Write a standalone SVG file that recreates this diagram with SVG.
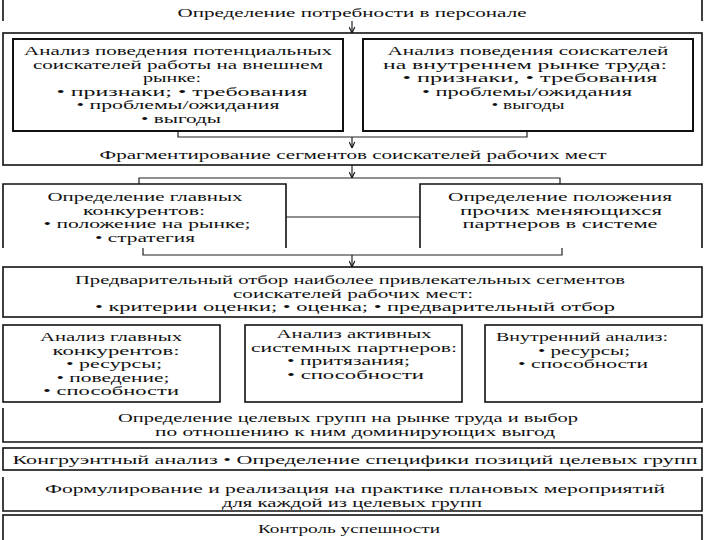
<svg xmlns="http://www.w3.org/2000/svg" width="720" height="540" viewBox="0 0 720 540">
<style>
text{font-family:"Liberation Serif","Times New Roman",serif;font-size:12px;fill:#111;text-anchor:middle}
.box{fill:none;stroke:#111;stroke-width:1.6}
.ibox{fill:none;stroke:#111;stroke-width:2}
.con{fill:none;stroke:#222;stroke-width:1.2}
</style>
<defs>
<marker id="v" viewBox="0 0 10 10" refX="9.5" refY="5" markerWidth="7" markerHeight="7" orient="auto" markerUnits="userSpaceOnUse">
<path d="M1,1 L9.5,5 L1,9" fill="none" stroke="#111" stroke-width="1.6"/>
</marker>
</defs>
<rect width="720" height="540" fill="#fff"/>
<g id="connectors">
<path class="con" d="M352,21 V33" marker-end="url(#v)"/>
<path class="con" d="M178,131 V137 H527 V131"/>
<path class="con" d="M352,137 V148" marker-end="url(#v)"/>
<path class="con" d="M352,165 V178" marker-end="url(#v)"/>
<path class="con" d="M139,184 V178 H560 V184"/>
<path class="con" d="M286,217 H420"/>
<path class="con" d="M143,248 V255 H562 V248"/>
<path class="con" d="M352,255 V267" marker-end="url(#v)"/>
</g>
<g id="n-need">
<path class="box" d="M3,0 V21 M702,0 V21"/>
<text x="352" y="16.5" textLength="349" lengthAdjust="spacingAndGlyphs">Определение потребности в персонале</text>
</g>
<g id="n-frag">
<rect class="box" x="3" y="33" width="699" height="132"/>
<text x="353" y="159" textLength="507" lengthAdjust="spacingAndGlyphs">Фрагментирование сегментов соискателей рабочих мест</text>
</g>
<g id="n-ext">
<rect class="ibox" x="13" y="39" width="330" height="92"/>
<text x="178" y="55" textLength="308" lengthAdjust="spacingAndGlyphs">Анализ поведения потенциальных</text>
<text x="178" y="68.5" textLength="290" lengthAdjust="spacingAndGlyphs">соискателей работы на внешнем</text>
<text x="172" y="82" textLength="58" lengthAdjust="spacingAndGlyphs">рынке:</text>
<text x="182" y="95.5" textLength="251" lengthAdjust="spacingAndGlyphs">• признаки;  • требования</text>
<text x="178" y="109" textLength="203" lengthAdjust="spacingAndGlyphs">• проблемы/ожидания</text>
<text x="181" y="122.5" textLength="80" lengthAdjust="spacingAndGlyphs">• выгоды</text>
</g>
<g id="n-int">
<rect class="ibox" x="363" y="39" width="330" height="92"/>
<text x="528" y="55" textLength="281" lengthAdjust="spacingAndGlyphs">Анализ поведения соискателей</text>
<text x="525" y="68.5" textLength="284" lengthAdjust="spacingAndGlyphs">на внутреннем рынке труда:</text>
<text x="530" y="82" textLength="255" lengthAdjust="spacingAndGlyphs">• признаки,  • требования</text>
<text x="527" y="95.5" textLength="210" lengthAdjust="spacingAndGlyphs">• проблемы/ожидания</text>
<text x="528" y="109" textLength="73" lengthAdjust="spacingAndGlyphs">• выгоды</text>
</g>
<g id="n-comp">
<path class="box" d="M3,248 V184 H286 V248"/>
<text x="145" y="201" textLength="195" lengthAdjust="spacingAndGlyphs">Определение главных</text>
<text x="144" y="214.5" textLength="122" lengthAdjust="spacingAndGlyphs">конкурентов:</text>
<text x="147" y="228" textLength="207" lengthAdjust="spacingAndGlyphs">• положение на рынке;</text>
<text x="145" y="241.5" textLength="100" lengthAdjust="spacingAndGlyphs">• стратегия</text>
</g>
<g id="n-partners">
<path class="box" d="M420,248 V184 H702 V248"/>
<text x="560" y="201" textLength="224" lengthAdjust="spacingAndGlyphs">Определение положения</text>
<text x="561" y="214.5" textLength="202" lengthAdjust="spacingAndGlyphs">прочих меняющихся</text>
<text x="560" y="228" textLength="195" lengthAdjust="spacingAndGlyphs">партнеров в системе</text>
</g>
<g id="n-select">
<rect class="box" x="3" y="267" width="699" height="50"/>
<text x="350" y="284" textLength="550" lengthAdjust="spacingAndGlyphs">Предварительный отбор наиболее привлекательных сегментов</text>
<text x="353" y="297.5" textLength="240" lengthAdjust="spacingAndGlyphs">соискателей рабочих мест:</text>
<text x="355" y="311" textLength="520" lengthAdjust="spacingAndGlyphs">• критерии оценки;  • оценка;  • предварительный отбор</text>
</g>
<g id="n-acomp">
<rect class="box" x="3" y="325" width="217" height="77"/>
<text x="111" y="341" textLength="142" lengthAdjust="spacingAndGlyphs">Анализ главных</text>
<text x="116" y="354.5" textLength="127" lengthAdjust="spacingAndGlyphs">конкурентов:</text>
<text x="114" y="368" textLength="96" lengthAdjust="spacingAndGlyphs">• ресурсы;</text>
<text x="113" y="381.5" textLength="113" lengthAdjust="spacingAndGlyphs">• поведение;</text>
<text x="111" y="395" textLength="136" lengthAdjust="spacingAndGlyphs">• способности</text>
</g>
<g id="n-apart">
<rect class="box" x="245" y="325" width="217" height="77"/>
<text x="354" y="338" textLength="155" lengthAdjust="spacingAndGlyphs">Анализ активных</text>
<text x="354" y="351.5" textLength="206" lengthAdjust="spacingAndGlyphs">системных партнеров:</text>
<text x="287" y="365" textLength="123" lengthAdjust="spacingAndGlyphs" style="text-anchor:start">• притязания;</text>
<text x="287" y="378.5" textLength="137" lengthAdjust="spacingAndGlyphs" style="text-anchor:start">• способности</text>
</g>
<g id="n-inner">
<rect class="box" x="485" y="325" width="217" height="77"/>
<text x="582" y="341" textLength="172" lengthAdjust="spacingAndGlyphs">Внутренний анализ:</text>
<text x="584" y="354.5" textLength="92" lengthAdjust="spacingAndGlyphs">• ресурсы;</text>
<text x="583" y="368" textLength="130" lengthAdjust="spacingAndGlyphs">• способности</text>
</g>
<g id="n-target">
<path class="box" d="M3,408 V442 H702 V408"/>
<text x="348" y="422" textLength="460" lengthAdjust="spacingAndGlyphs">Определение целевых групп на рынке труда и выбор</text>
<text x="355" y="435.5" textLength="400" lengthAdjust="spacingAndGlyphs">по отношению  к ним доминирующих выгод</text>
</g>
<g id="n-congr">
<rect class="box" x="3" y="448" width="699" height="22"/>
<text x="355" y="463.5" textLength="685" lengthAdjust="spacingAndGlyphs">Конгруэнтный анализ • Определение специфики позиций целевых групп</text>
</g>
<g id="n-plan">
<path class="box" d="M3,477 V511 H702 V477"/>
<text x="355" y="493" textLength="620" lengthAdjust="spacingAndGlyphs">Формулирование и реализация на практике плановых мероприятий</text>
<text x="352" y="506.5" textLength="260" lengthAdjust="spacingAndGlyphs">для каждой из целевых групп</text>
</g>
<g id="n-control">
<rect class="box" x="3" y="515" width="699" height="35"/>
<text x="349" y="532.5" textLength="182" lengthAdjust="spacingAndGlyphs">Контроль успешности</text>
</g>
</svg>
